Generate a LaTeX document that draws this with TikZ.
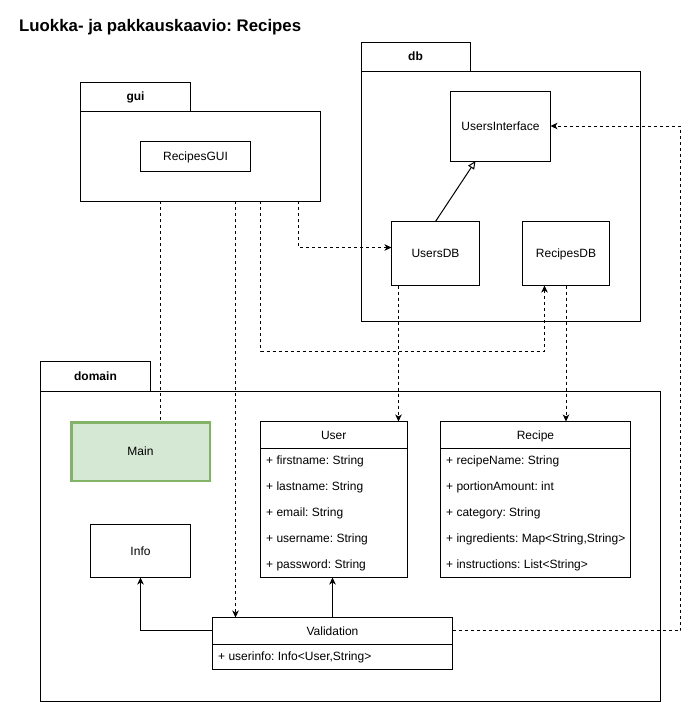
\documentclass[tikz,border=0pt]{standalone}
\usepackage{fontspec}
\setmainfont{Liberation Sans}
\usetikzlibrary{arrows.meta,calc}
\definecolor{mainfill}{HTML}{D5E8D4}
\definecolor{maindraw}{HTML}{82B366}
\frenchspacing
\begin{document}
\begin{tikzpicture}[x=1pt,y=-1pt,
  box/.style={draw=black, line width=1pt, fill=white, anchor=north west, inner sep=0pt, outer sep=0pt,
    text height=8.6pt, text depth=0pt, font=\fontsize{12}{14}\selectfont},
  tabbox/.style={box, font=\bfseries\fontsize{12}{14}\selectfont},
  attr/.style={anchor=west, inner sep=0pt, text height=8.6pt, text depth=0pt,
    font=\fontsize{12}{14}\selectfont},
  dashline/.style={line width=1pt, dash pattern=on 3pt off 3pt},
  tip/.style={-{Stealth[length=7pt,width=6.5pt,inset=2pt]}},
  dep/.style={draw, dashline, tip},
  assoc/.style={draw, line width=1pt, tip},
  gen/.style={draw, line width=1pt, -{Triangle[open,length=8pt,width=7pt]}}
]
\useasboundingbox[fill=white] (0,0) rectangle (689,702);

% title
\node[anchor=base west, inner sep=0pt, font=\bfseries\fontsize{16.8}{20}\selectfont] (title) at (19,31) {Luokka- ja pakkauskaavio: Recipes};

% gui package
\node[tabbox, minimum width=110pt, minimum height=29pt] (guitab) at (80.5,82) {gui};
\node[box, minimum width=240pt, minimum height=90pt] (guibody) at (80.5,111) {};
\node[box, minimum width=110pt, minimum height=30pt] (recipesgui) at (140.5,141) {RecipesGUI};

% db package
\node[tabbox, minimum width=109pt, minimum height=29pt] (dbtab) at (361,42) {db};
\node[box, minimum width=279pt, minimum height=250pt] (dbbody) at (361,71) {};
\node[box, minimum width=100pt, minimum height=70pt] (usersif) at (450.5,91) {UsersInterface};
\node[box, minimum width=88pt, minimum height=64pt] (usersdb) at (391.5,221.5) {UsersDB};
\node[box, minimum width=87pt, minimum height=64pt] (recipesdb) at (522.5,221.5) {RecipesDB};

% domain package
\node[tabbox, minimum width=110pt, minimum height=30pt] (domaintab) at (40.5,361.5) {domain};
\node[box, minimum width=620pt, minimum height=309.5pt] (domainbody) at (40.5,391.5) {};
\node[box, draw=maindraw, fill=mainfill, line width=2.5pt, minimum width=138.5pt, minimum height=58.5pt] (main) at (71.25,422.25) {Main};
\node[box, minimum width=100pt, minimum height=53pt] (info) at (90.5,524.5) {Info};

% User class
\node[box, minimum width=146.5pt, minimum height=26.5pt] (userhead) at (260.5,421.5) {User};
\node[box, minimum width=146.5pt, minimum height=129.5pt] (userbody) at (260.5,448) {};
\node[attr] (ua1) at (266,460.5) {+ firstname: String};
\node[attr] (ua2) at (266,486.5) {+ lastname: String};
\node[attr] (ua3) at (266,512.5) {+ email: String};
\node[attr] (ua4) at (266,538.5) {+ username: String};
\node[attr] (ua5) at (266,564.5) {+ password: String};

% Recipe class
\node[box, minimum width=190pt, minimum height=26.5pt] (recipehead) at (440.5,421.5) {Recipe};
\node[box, minimum width=190pt, minimum height=129.5pt] (recipebody) at (440.5,448) {};
\node[attr] (ra1) at (446,460.5) {+ recipeName: String};
\node[attr] (ra2) at (446,486.5) {+ portionAmount: int};
\node[attr] (ra3) at (446,512.5) {+ category: String};
\node[attr] (ra4) at (446,538.5) {+ ingredients: Map<String,String>};
\node[attr] (ra5) at (446,564.5) {+ instructions: List<String>};

% Validation class
\node[box, minimum width=240pt, minimum height=26.5pt] (validhead) at (212.5,617.5) {Validation};
\node[box, minimum width=240pt, minimum height=25.5pt] (validbody) at (212.5,644) {};
\node[attr] (va1) at (218,656.5) {+ userinfo: Info<User,String>};

% connector anchors
\coordinate (g1) at ([xshift=-40pt]guibody.south);
\coordinate (g2) at ([xshift=35pt]guibody.south);
\coordinate (g3) at ([xshift=60pt]guibody.south);
\coordinate (g4) at ([xshift=98pt]guibody.south);
\coordinate (rdbin) at ([xshift=-21.5pt]recipesdb.south);
\coordinate (udbout) at ([xshift=-37pt]usersdb.south);
\coordinate (udbin) at ([yshift=6pt]usersdb.west);

% connectors
\draw[dashline] (g1) -- (g1 |- main.north);
\draw[dep] (g2) -- (g2 |- validhead.north);
\draw[dep] (g3) -- ++(0,150) -| (rdbin);
\draw[dep] (g4) |- (udbin);
\draw[dep] (udbout) -- (udbout |- userhead.north);
\draw[dep] (recipesdb.south) -- (recipesdb.south |- recipehead.north);
\draw[dep] (validhead.east) -- ++(228,0) |- (usersif.east);
\draw[gen] (usersdb.north) -- ([xshift=-25pt]usersif.south);
\draw[assoc] (validhead.west) -| (info.south);
\draw[assoc] (validhead.north) -- (validhead.north |- userbody.south);
\end{tikzpicture}
\end{document}
